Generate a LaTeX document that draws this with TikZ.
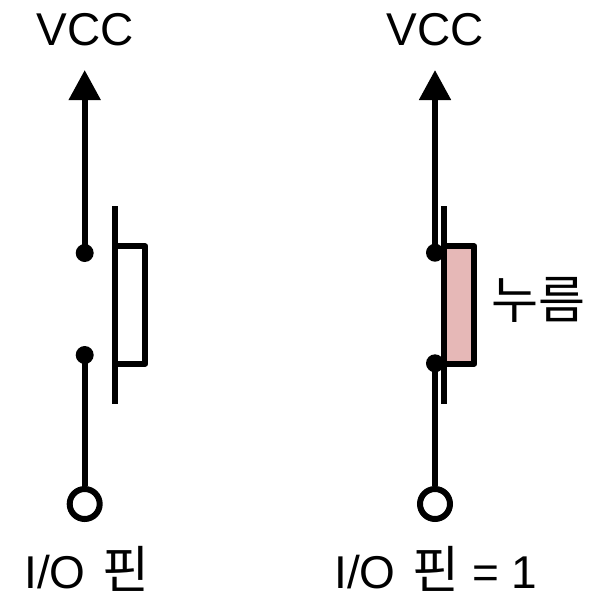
\documentclass[tikz,border=0pt]{standalone}
\usepackage{fontspec}
\usepackage{xcolor}
\setmainfont{Liberation Sans}
\newfontfamily\krfont{Noto Sans CJK KR}[Scale=1.11]
\usetikzlibrary{arrows.meta}
\definecolor{pressfill}{HTML}{E6B8B7}

\begin{document}
\begin{tikzpicture}[
        x=0.75pt, y=-0.75pt,
        wire/.style={line width=4.5pt},
        vccwire/.style={wire, -{Triangle[length=22.5pt, width=23pt]}},
        contact/.style={circle, fill=black, inner sep=0pt, minimum size=13.5pt},
        pin/.style={circle, draw, line width=4.5pt, fill=white, inner sep=0pt, minimum size=22.5pt},
        plate/.style={line width=4.5pt},
        button/.style={draw, line width=4.5pt, line join=round, inner sep=0pt, minimum width=23pt, minimum height=88pt},
        label/.style={font=\fontsize{34.5}{40}\selectfont, inner sep=0pt},
        bottomlabel/.style={label, anchor=base west}
    ]
    \useasboundingbox (0, 0) rectangle (591, 593);

    % open switch
    \coordinate (v1) at (84.7, 70);
    \coordinate (p1a) at (114.7, 206);
    \coordinate (p1b) at (114.7, 404);
    \node[contact] (c1a) at (84.7, 253) {};
    \node[contact] (c1b) at (84.7, 355) {};
    \node[pin] (o1) at (84.7, 504) {};
    \node[label, anchor=base] (vcc1) at (85, 45) {VCC};
    \node[bottomlabel] (io1) at (24, 588) {I/O\hspace{3pt} {\krfont 핀}};
    \draw[vccwire] (c1a.center) -- (v1);
    \draw[wire] (c1b.center) -- (o1);
    \draw[plate] (p1a) -- (p1b);
    \node[button] (b1) at (130, 305) {};

    % pressed switch
    \coordinate (v2) at (435, 70);
    \coordinate (p2a) at (443.7, 206);
    \coordinate (p2b) at (443.7, 404);
    \node[contact] (c2a) at (435, 252.7) {};
    \node[contact] (c2b) at (435, 363.3) {};
    \node[pin] (o2) at (435, 504) {};
    \node[label, anchor=base] (vcc2) at (435.5, 45) {VCC};
    \node[bottomlabel] (io2) at (334, 588) {I/O\hspace{3pt} {\krfont 핀} = 1};
    \draw[vccwire] (c2a.center) -- (v2);
    \draw[wire] (c2b.center) -- (o2);
    \draw[plate] (p2a) -- (p2b);
    \node[button, fill=pressfill] (b2) at (459, 305) {};
    \node[label, anchor=base west] (press) at (491, 318) {\krfont 누름};
\end{tikzpicture}
\end{document}
